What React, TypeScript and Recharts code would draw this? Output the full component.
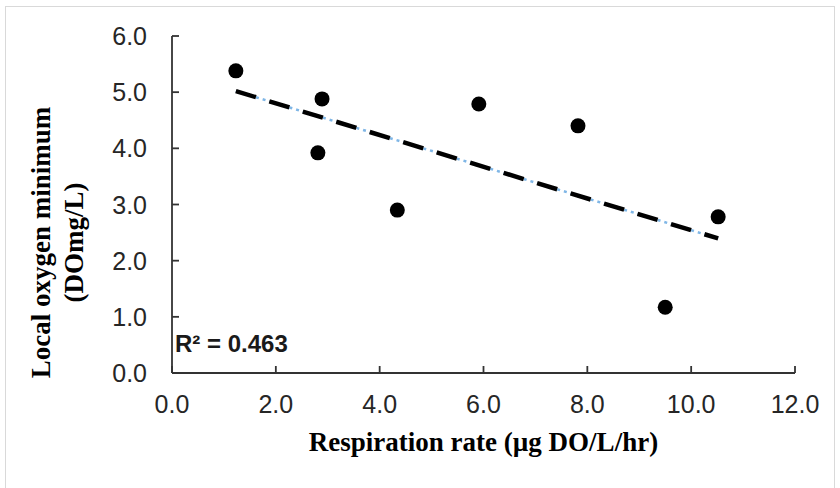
import React from 'react';
import { ScatterChart, Scatter, XAxis, YAxis, ReferenceLine, Label } from 'recharts';

// ---- data ----
const respirationRate = [1.23, 2.89, 2.81, 4.34, 5.91, 7.82, 9.5, 10.52];
const oxygenMinimum = [5.38, 4.88, 3.92, 2.9, 4.79, 4.4, 1.17, 2.78];
const xTicks = [0, 2, 4, 6, 8, 10, 12];
const yTicks = [0, 1, 2, 3, 4, 5, 6];
const xTitle = 'Respiration rate (µg DO/L/hr)';
const yTitleLines = ['Local oxygen minimum', '(DOmg/L)'];
const r2Label = 'R² = 0.463';

const points = respirationRate.map((x, i) => ({ x, y: oxygenMinimum[i] }));

// linear trendline (least squares) over the data range
const n = points.length;
const mx = respirationRate.reduce((a, b) => a + b, 0) / n;
const my = oxygenMinimum.reduce((a, b) => a + b, 0) / n;
let sxy = 0;
let sxx = 0;
points.forEach((p) => {
  sxy += (p.x - mx) * (p.y - my);
  sxx += (p.x - mx) * (p.x - mx);
});
const slope = sxy / sxx;
const intercept = my - slope * mx;
const xMin = Math.min(...respirationRate);
const xMax = Math.max(...respirationRate);
const trendSegment = [
  { x: xMin, y: intercept + slope * xMin },
  { x: xMax, y: intercept + slope * xMax },
];

const SANS = '"Liberation Sans", Arial, sans-serif';
const SERIF = '"Liberation Serif", "Times New Roman", serif';
const AXIS_COLOR = '#333333';
const TICK_TEXT = '#262626';
const X_TICK_MARGIN = 10;
const Y_TICK_MARGIN = 10;

const XTick = (props: any) => {
  const { x, y, payload } = props;
  const axisY = y - X_TICK_MARGIN;
  return (
    <g>
      <line x1={x} x2={x} y1={axisY} y2={axisY - 7} stroke={AXIS_COLOR} strokeWidth={1.8} />
      <text x={x} y={axisY + 40} textAnchor="middle" fontFamily={SANS} fontSize={25} fill={TICK_TEXT}>
        {Number(payload.value).toFixed(1)}
      </text>
    </g>
  );
};

const YTick = (props: any) => {
  const { x, y, payload } = props;
  const axisX = x + Y_TICK_MARGIN;
  return (
    <g>
      <line x1={axisX} x2={axisX + 7} y1={y} y2={y} stroke={AXIS_COLOR} strokeWidth={1.8} />
      <text x={axisX - 25} y={y + 9} textAnchor="end" fontFamily={SANS} fontSize={25} fill={TICK_TEXT}>
        {Number(payload.value).toFixed(1)}
      </text>
    </g>
  );
};

const Dot = (props: any) => <circle cx={props.cx} cy={props.cy} r={7.5} fill="#000" />;

const XTitle = (props: any) => {
  const vb = props.viewBox || { x: 172, y: 373, width: 623, height: 60 };
  return (
    <text
      x={vb.x + vb.width / 2}
      y={vb.y + 78}
      textAnchor="middle"
      fontFamily={SERIF}
      fontWeight="bold"
      fontSize={27}
      fill="#000"
    >
      {xTitle}
    </text>
  );
};

const YTitle = (props: any) => {
  const vb = props.viewBox || { x: 72, y: 36, width: 100, height: 337 };
  const plotLeft = vb.x + vb.width;
  const plotBottom = vb.y + vb.height;
  const cy = vb.y + vb.height / 2 + 38;
  const b1 = plotLeft - 122;
  const b2 = plotLeft - 89;
  return (
    <g>
      <text
        x={b1}
        y={cy}
        transform={`rotate(-90, ${b1}, ${cy})`}
        textAnchor="middle"
        fontFamily={SERIF}
        fontWeight="bold"
        fontSize={27}
        fill="#000"
      >
        {yTitleLines[0]}
      </text>
      <text
        x={b2}
        y={cy}
        transform={`rotate(-90, ${b2}, ${cy})`}
        textAnchor="middle"
        fontFamily={SERIF}
        fontWeight="bold"
        fontSize={27}
        fill="#000"
      >
        {yTitleLines[1]}
      </text>
      <text x={plotLeft + 3} y={plotBottom - 21} fontFamily={SANS} fontWeight="bold" fontSize={24} fill="#1a1a1a">
        {r2Label}
      </text>
    </g>
  );
};

export default function App() {
  return (
    <div style={{ position: 'absolute', left: 0, top: 0, width: 840, height: 488, background: '#fff' }}>
      <div
        style={{
          position: 'absolute',
          left: 5,
          top: 6,
          width: 830,
          height: 500,
          border: '1px solid #d9d9d9',
          boxSizing: 'border-box',
        }}
      />
      <div style={{ position: 'absolute', left: 0, top: 0 }}>
        <ScatterChart width={840} height={488} margin={{ top: 36, right: 45, bottom: 55, left: 72 }}>
          <XAxis
            type="number"
            dataKey="x"
            domain={[0, 12]}
            ticks={xTicks}
            interval={0}
            height={60}
            tickSize={0}
            tickMargin={X_TICK_MARGIN}
            tickLine={false}
            axisLine={{ stroke: AXIS_COLOR, strokeWidth: 1.8 }}
            tick={<XTick />}
          >
            <Label content={<XTitle />} />
          </XAxis>
          <YAxis
            type="number"
            dataKey="y"
            domain={[0, 6]}
            ticks={yTicks}
            interval={0}
            width={100}
            tickSize={0}
            tickMargin={Y_TICK_MARGIN}
            tickLine={false}
            axisLine={{ stroke: AXIS_COLOR, strokeWidth: 1.8 }}
            tick={<YTick />}
          >
            <Label content={<YTitle />} />
          </YAxis>
          <ReferenceLine
            segment={trendSegment}
            stroke="#7fb6e6"
            strokeWidth={2.5}
            strokeDasharray="3 4"
          />
          <ReferenceLine
            segment={trendSegment}
            stroke="#000"
            strokeWidth={4.5}
            strokeDasharray="21 14"
          />
          <Scatter data={points} shape={<Dot />} isAnimationActive={false} />
        </ScatterChart>
      </div>
    </div>
  );
}
